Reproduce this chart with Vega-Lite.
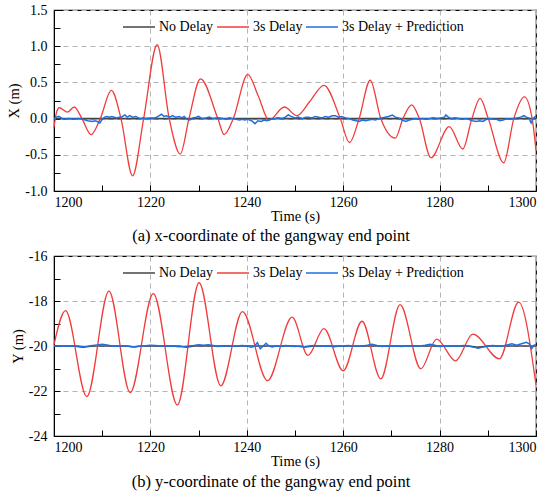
{
  "$schema": "https://vega.github.io/schema/vega-lite/v6.json",
  "padding": {"left": 6, "top": 2, "right": 5, "bottom": 2},
  "background": "white",
  "config": {
    "font": "Liberation Serif",
    "view": {"stroke": "black", "strokeWidth": 1.2},
    "axis": {
      "labelFont": "Liberation Serif",
      "titleFont": "Liberation Serif",
      "labelFontSize": 14,
      "titleFontSize": 14.5,
      "titleFontWeight": "normal",
      "labelColor": "black",
      "titleColor": "black",
      "domainColor": "black",
      "tickColor": "black",
      "tickSize": -6,
      "gridColor": "#b4b4b4",
      "gridDash": [5, 4],
      "gridWidth": 1
    },
    "legend": {
      "labelFont": "Liberation Serif",
      "labelFontSize": 14,
      "labelColor": "black"
    },
    "title": {"font": "Liberation Serif", "fontSize": 16.5, "fontWeight": "normal", "color": "black"}
  },
  "datasets": {
    "a_black": [{"t": 1200, "v": 0}, {"t": 1300, "v": 0}],
    "a_red": [
      {"t": 1200, "v": -0.12}, {"t": 1200.5, "v": 0.08}, {"t": 1201.1, "v": 0.15}, {"t": 1202.8, "v": 0.09},
      {"t": 1204.2, "v": 0.16}, {"t": 1205.8, "v": 0.0}, {"t": 1207.7, "v": -0.22}, {"t": 1209.6, "v": 0.0},
      {"t": 1211.9, "v": 0.39}, {"t": 1213.9, "v": 0.0}, {"t": 1216.3, "v": -0.79}, {"t": 1218.6, "v": 0.0},
      {"t": 1221.4, "v": 1.02}, {"t": 1223.9, "v": 0.0}, {"t": 1226.2, "v": -0.49}, {"t": 1228.0, "v": 0.0},
      {"t": 1230.4, "v": 0.55}, {"t": 1234.0, "v": 0.0}, {"t": 1235.3, "v": -0.22}, {"t": 1237.2, "v": 0.0},
      {"t": 1240.2, "v": 0.61}, {"t": 1242.4, "v": 0.31}, {"t": 1244.6, "v": -0.02}, {"t": 1247.8, "v": 0.16},
      {"t": 1250.4, "v": 0.04}, {"t": 1253.1, "v": 0.24}, {"t": 1256.0, "v": 0.46}, {"t": 1259.4, "v": 0.0},
      {"t": 1261.3, "v": -0.33}, {"t": 1263.3, "v": 0.0}, {"t": 1265.6, "v": 0.53}, {"t": 1267.8, "v": 0.0},
      {"t": 1270.8, "v": -0.27}, {"t": 1272.4, "v": 0.0}, {"t": 1274.2, "v": 0.19}, {"t": 1275.8, "v": 0.0},
      {"t": 1278.2, "v": -0.54}, {"t": 1282.0, "v": -0.11}, {"t": 1284.8, "v": -0.42}, {"t": 1286.7, "v": 0.0},
      {"t": 1288.4, "v": 0.28}, {"t": 1290.1, "v": 0.0}, {"t": 1293.3, "v": -0.61}, {"t": 1295.4, "v": 0.0},
      {"t": 1297.6, "v": 0.3}, {"t": 1299.2, "v": 0.0}, {"t": 1300, "v": -0.44}
    ],
    "a_blue": [
      {"t": 1200, "v": 0.0}, {"t": 1200.5, "v": 0.02}, {"t": 1201, "v": 0.03}, {"t": 1201.5, "v": 0.01},
      {"t": 1202, "v": -0.01}, {"t": 1203, "v": 0.0}, {"t": 1204, "v": -0.01}, {"t": 1205, "v": 0.0},
      {"t": 1206, "v": -0.01}, {"t": 1207, "v": -0.03}, {"t": 1208, "v": -0.04}, {"t": 1208.5, "v": -0.03},
      {"t": 1209, "v": -0.04}, {"t": 1209.5, "v": -0.06}, {"t": 1210, "v": -0.01}, {"t": 1210.5, "v": 0.02},
      {"t": 1211, "v": 0.03}, {"t": 1211.5, "v": 0.02}, {"t": 1212, "v": 0.03}, {"t": 1213, "v": 0.01},
      {"t": 1213.5, "v": 0.02}, {"t": 1214, "v": 0.02}, {"t": 1214.7, "v": 0.05}, {"t": 1215.2, "v": 0.02},
      {"t": 1215.7, "v": 0.04}, {"t": 1216.3, "v": 0.02}, {"t": 1217, "v": 0.03}, {"t": 1217.5, "v": 0.01},
      {"t": 1218, "v": 0.0}, {"t": 1218.5, "v": 0.01}, {"t": 1219, "v": 0.0}, {"t": 1220, "v": 0.01},
      {"t": 1221, "v": 0.01}, {"t": 1221.6, "v": 0.03}, {"t": 1222.3, "v": 0.06}, {"t": 1222.8, "v": 0.03},
      {"t": 1223.3, "v": 0.04}, {"t": 1224, "v": 0.02}, {"t": 1224.6, "v": 0.04}, {"t": 1225.2, "v": 0.02},
      {"t": 1226, "v": 0.03}, {"t": 1226.5, "v": 0.01}, {"t": 1227, "v": 0.03}, {"t": 1227.6, "v": -0.01},
      {"t": 1228.2, "v": -0.02}, {"t": 1228.8, "v": 0.01}, {"t": 1229.5, "v": 0.02}, {"t": 1230, "v": 0.03},
      {"t": 1230.7, "v": 0.0}, {"t": 1231.5, "v": 0.01}, {"t": 1232.2, "v": 0.02}, {"t": 1233, "v": 0.0},
      {"t": 1234, "v": 0.01}, {"t": 1235, "v": 0.0}, {"t": 1235.6, "v": -0.01}, {"t": 1236.3, "v": 0.01},
      {"t": 1237, "v": 0.0}, {"t": 1237.8, "v": -0.01}, {"t": 1238.5, "v": -0.02}, {"t": 1239, "v": -0.01},
      {"t": 1239.6, "v": -0.02}, {"t": 1240.2, "v": -0.01}, {"t": 1241, "v": -0.03}, {"t": 1241.7, "v": -0.07},
      {"t": 1242.3, "v": -0.03}, {"t": 1243, "v": -0.04}, {"t": 1243.6, "v": -0.02}, {"t": 1244.2, "v": -0.03},
      {"t": 1245, "v": -0.01}, {"t": 1245.8, "v": 0.0}, {"t": 1246.5, "v": 0.01}, {"t": 1247.3, "v": 0.0},
      {"t": 1248, "v": 0.02}, {"t": 1248.6, "v": 0.05}, {"t": 1249.2, "v": 0.03}, {"t": 1250, "v": 0.01},
      {"t": 1250.7, "v": 0.02}, {"t": 1251.5, "v": 0.0}, {"t": 1252.2, "v": 0.02}, {"t": 1252.8, "v": 0.02},
      {"t": 1253.5, "v": 0.01}, {"t": 1254.2, "v": 0.03}, {"t": 1254.9, "v": 0.02}, {"t": 1255.6, "v": 0.01},
      {"t": 1256.3, "v": 0.03}, {"t": 1257, "v": 0.02}, {"t": 1257.7, "v": 0.04}, {"t": 1258.4, "v": 0.04},
      {"t": 1259, "v": 0.02}, {"t": 1259.7, "v": 0.03}, {"t": 1260.5, "v": 0.01}, {"t": 1261.2, "v": 0.0},
      {"t": 1262, "v": -0.02}, {"t": 1262.7, "v": -0.03}, {"t": 1263.3, "v": -0.04}, {"t": 1264, "v": -0.02},
      {"t": 1264.7, "v": -0.03}, {"t": 1265.3, "v": -0.02}, {"t": 1266, "v": -0.01}, {"t": 1266.7, "v": -0.02},
      {"t": 1267.4, "v": 0.0}, {"t": 1268, "v": 0.01}, {"t": 1268.7, "v": 0.02}, {"t": 1269.4, "v": 0.03},
      {"t": 1270.2, "v": 0.05}, {"t": 1270.8, "v": 0.02}, {"t": 1271.5, "v": 0.01}, {"t": 1272.2, "v": -0.02},
      {"t": 1273, "v": -0.04}, {"t": 1273.7, "v": -0.02}, {"t": 1274.4, "v": -0.01}, {"t": 1275, "v": 0.0},
      {"t": 1275.8, "v": -0.01}, {"t": 1276.5, "v": 0.0}, {"t": 1277.2, "v": -0.01}, {"t": 1278, "v": 0.0},
      {"t": 1278.7, "v": 0.01}, {"t": 1279.5, "v": 0.0}, {"t": 1280.2, "v": 0.01}, {"t": 1281, "v": 0.02},
      {"t": 1281.3, "v": 0.05}, {"t": 1281.8, "v": 0.02}, {"t": 1282.5, "v": 0.0}, {"t": 1283.2, "v": 0.01},
      {"t": 1284, "v": 0.0}, {"t": 1284.7, "v": -0.01}, {"t": 1285.4, "v": 0.0}, {"t": 1286, "v": -0.01},
      {"t": 1286.8, "v": -0.03}, {"t": 1287.6, "v": -0.04}, {"t": 1288.3, "v": -0.03}, {"t": 1289, "v": -0.04},
      {"t": 1289.7, "v": -0.01}, {"t": 1290.4, "v": 0.0}, {"t": 1291.1, "v": -0.01}, {"t": 1291.8, "v": -0.01},
      {"t": 1292.5, "v": -0.03}, {"t": 1293.2, "v": -0.02}, {"t": 1294, "v": 0.0}, {"t": 1294.7, "v": -0.01},
      {"t": 1295.4, "v": 0.0}, {"t": 1296.1, "v": 0.01}, {"t": 1296.8, "v": 0.02}, {"t": 1297.5, "v": 0.04},
      {"t": 1298.0, "v": 0.02}, {"t": 1298.5, "v": 0.01}, {"t": 1299.0, "v": -0.06}, {"t": 1299.4, "v": 0.0},
      {"t": 1300, "v": 0.04}
    ],
    "b_black": [
      {"t": 1200, "v": -20}, {"t": 1204, "v": -20}, {"t": 1206, "v": -20.05}, {"t": 1208, "v": -20},
      {"t": 1215, "v": -20}, {"t": 1216.5, "v": -20.04}, {"t": 1218, "v": -20}, {"t": 1226, "v": -20},
      {"t": 1227.5, "v": -20.05}, {"t": 1229, "v": -20}, {"t": 1250, "v": -20}, {"t": 1252, "v": -20.04},
      {"t": 1254, "v": -20}, {"t": 1286, "v": -20}, {"t": 1288, "v": -20.06}, {"t": 1290, "v": -20},
      {"t": 1300, "v": -20}
    ],
    "b_red": [
      {"t": 1200, "v": -19.94}, {"t": 1202.4, "v": -18.43}, {"t": 1206.8, "v": -22.25}, {"t": 1211.4, "v": -17.56},
      {"t": 1215.8, "v": -22.07}, {"t": 1220.6, "v": -17.67}, {"t": 1225.6, "v": -22.62}, {"t": 1230.1, "v": -17.19},
      {"t": 1234.6, "v": -21.77}, {"t": 1239.1, "v": -18.47}, {"t": 1244.3, "v": -21.54}, {"t": 1249.4, "v": -18.72},
      {"t": 1252.7, "v": -20.42}, {"t": 1256.0, "v": -19.23}, {"t": 1260.0, "v": -21.1}, {"t": 1263.9, "v": -18.9},
      {"t": 1267.8, "v": -21.46}, {"t": 1271.8, "v": -18.16}, {"t": 1276.1, "v": -21.01}, {"t": 1279.4, "v": -19.69},
      {"t": 1283.3, "v": -20.66}, {"t": 1286.9, "v": -19.47}, {"t": 1292.4, "v": -20.57}, {"t": 1296.4, "v": -18.05},
      {"t": 1300, "v": -21.73}
    ],
    "b_blue": [
      {"t": 1200, "v": -20.0}, {"t": 1201, "v": -19.99}, {"t": 1202, "v": -20.0}, {"t": 1203, "v": -20.01},
      {"t": 1204, "v": -20.0}, {"t": 1205, "v": -20.0}, {"t": 1206, "v": -20.02}, {"t": 1207, "v": -20.01},
      {"t": 1208, "v": -19.98}, {"t": 1209, "v": -19.95}, {"t": 1210, "v": -19.92}, {"t": 1211, "v": -19.96},
      {"t": 1212, "v": -20.0}, {"t": 1213, "v": -20.01}, {"t": 1214, "v": -20.0}, {"t": 1215, "v": -20.0},
      {"t": 1216, "v": -20.02}, {"t": 1217, "v": -20.03}, {"t": 1218, "v": -20.0}, {"t": 1219, "v": -19.99},
      {"t": 1220, "v": -19.97}, {"t": 1221, "v": -19.98}, {"t": 1222, "v": -20.0}, {"t": 1223, "v": -20.0},
      {"t": 1224, "v": -20.0}, {"t": 1225, "v": -20.01}, {"t": 1226, "v": -20.03}, {"t": 1227, "v": -20.02},
      {"t": 1228, "v": -20.0}, {"t": 1229, "v": -19.98}, {"t": 1230, "v": -19.95}, {"t": 1231, "v": -19.97},
      {"t": 1232, "v": -19.94}, {"t": 1233, "v": -19.98}, {"t": 1234, "v": -20.02}, {"t": 1235, "v": -20.0},
      {"t": 1236, "v": -19.99}, {"t": 1237, "v": -20.01}, {"t": 1238, "v": -20.0}, {"t": 1239, "v": -19.98},
      {"t": 1240, "v": -20.0}, {"t": 1241, "v": -20.05}, {"t": 1241.6, "v": -20.0}, {"t": 1242.2, "v": -19.85},
      {"t": 1242.8, "v": -20.12}, {"t": 1243.4, "v": -20.0}, {"t": 1244.0, "v": -19.88}, {"t": 1244.6, "v": -20.0},
      {"t": 1245.3, "v": -20.04}, {"t": 1246, "v": -20.0}, {"t": 1247, "v": -20.02}, {"t": 1248, "v": -19.98},
      {"t": 1249, "v": -20.0}, {"t": 1250, "v": -20.02}, {"t": 1251, "v": -20.0}, {"t": 1252, "v": -20.03},
      {"t": 1253, "v": -20.0}, {"t": 1254, "v": -19.98}, {"t": 1255, "v": -20.0}, {"t": 1256, "v": -20.01},
      {"t": 1257, "v": -20.0}, {"t": 1258, "v": -20.03}, {"t": 1259, "v": -20.01}, {"t": 1260, "v": -20.0},
      {"t": 1261, "v": -19.98}, {"t": 1262, "v": -20.0}, {"t": 1263, "v": -20.01}, {"t": 1264, "v": -20.0},
      {"t": 1265, "v": -19.97}, {"t": 1266, "v": -19.92}, {"t": 1267, "v": -19.98}, {"t": 1268, "v": -20.02},
      {"t": 1269, "v": -20.0}, {"t": 1270, "v": -20.01}, {"t": 1271, "v": -20.0}, {"t": 1272, "v": -20.02},
      {"t": 1273, "v": -20.0}, {"t": 1274, "v": -20.0}, {"t": 1275, "v": -19.99}, {"t": 1276, "v": -20.0},
      {"t": 1277, "v": -19.97}, {"t": 1278, "v": -19.92}, {"t": 1279, "v": -19.97}, {"t": 1280, "v": -20.02},
      {"t": 1281, "v": -20.0}, {"t": 1282, "v": -20.01}, {"t": 1283, "v": -20.0}, {"t": 1284, "v": -20.0},
      {"t": 1285, "v": -19.98}, {"t": 1286, "v": -20.0}, {"t": 1287, "v": -20.05}, {"t": 1288, "v": -20.1},
      {"t": 1289, "v": -20.05}, {"t": 1290, "v": -20.0}, {"t": 1291, "v": -19.98}, {"t": 1292, "v": -20.0},
      {"t": 1293, "v": -20.01}, {"t": 1294, "v": -19.95}, {"t": 1295, "v": -19.9}, {"t": 1296, "v": -19.96},
      {"t": 1297, "v": -19.9}, {"t": 1298, "v": -19.84}, {"t": 1298.6, "v": -19.9}, {"t": 1299.1, "v": -20.12},
      {"t": 1299.6, "v": -19.96}, {"t": 1300, "v": -19.94}
    ]
  },
  "vconcat": [
    {
      "width": 482,
      "height": 181,
      "title": {"text": "(a) x-coordinate of the gangway end point", "orient": "bottom", "offset": 5, "dx": -24},
      "encoding": {
        "x": {
          "field": "t", "type": "quantitative",
          "scale": {"domain": [1200, 1300], "nice": false},
          "axis": {
            "title": "Time (s)",
            "values": [1200, 1210, 1220, 1230, 1240, 1250, 1260, 1270, 1280, 1290, 1300],
            "labelExpr": "datum.value % 20 === 0 ? format(datum.value, 'd') : ''",
            "labelPadding": 10,
            "titlePadding": 0,
            "gridOpacity": {"condition": {"test": "datum.value % 20 === 0", "value": 1}, "value": 0}
          }
        },
        "y": {
          "field": "v", "type": "quantitative",
          "scale": {"domain": [-1, 1.5], "nice": false, "zero": false},
          "axis": {
            "title": "X (m)",
            "values": [-1, -0.75, -0.5, -0.25, 0, 0.25, 0.5, 0.75, 1, 1.25, 1.5],
            "labelExpr": "abs(datum.value * 2 - round(datum.value * 2)) < 0.001 ? replace(format(datum.value, '.1f'), '\u2212', '-') : ''",
            "labelPadding": 13,
            "titlePadding": 3,
            "gridOpacity": {"condition": {"test": "abs(datum.value * 2 - round(datum.value * 2)) < 0.001", "value": 1}, "value": 0}
          }
        },
        "color": {
          "datum": "No Delay", "type": "nominal",
          "scale": {"domain": ["No Delay", "3s Delay", "3s Delay + Prediction"], "range": ["#444444", "#f23c3c", "#1f6fe0"]},
          "legend": {"title": null, "orient": "none", "direction": "horizontal", "legendX": 68, "legendY": 0, "symbolType": "stroke", "symbolSize": 1024, "symbolStrokeWidth": 1.5, "labelOffset": 3, "columnPadding": 0, "padding": 0}
        }
      },
      "layer": [
        {"data": {"name": "a_black"}, "mark": {"type": "line", "strokeWidth": 1.6}},
        {"data": {"name": "a_red"}, "mark": {"type": "line", "strokeWidth": 1.3, "interpolate": "monotone"}, "encoding": {"color": {"datum": "3s Delay", "type": "nominal"}}},
        {"data": {"name": "a_blue"}, "mark": {"type": "line", "strokeWidth": 1.5}, "encoding": {"color": {"datum": "3s Delay + Prediction", "type": "nominal"}}}
      ]
    },
    {
      "width": 482,
      "height": 180,
      "title": {"text": "(b) y-coordinate of the gangway end point", "orient": "bottom", "offset": 6, "dx": -24},
      "encoding": {
        "x": {
          "field": "t", "type": "quantitative",
          "scale": {"domain": [1200, 1300], "nice": false},
          "axis": {
            "title": "Time (s)",
            "values": [1200, 1210, 1220, 1230, 1240, 1250, 1260, 1270, 1280, 1290, 1300],
            "labelExpr": "datum.value % 20 === 0 ? format(datum.value, 'd') : ''",
            "labelPadding": 10,
            "titlePadding": 0,
            "gridOpacity": {"condition": {"test": "datum.value % 20 === 0", "value": 1}, "value": 0}
          }
        },
        "y": {
          "field": "v", "type": "quantitative",
          "scale": {"domain": [-24, -16], "nice": false, "zero": false},
          "axis": {
            "title": "Y (m)",
            "values": [-24, -23, -22, -21, -20, -19, -18, -17, -16],
            "labelExpr": "datum.value % 2 === 0 ? replace(format(datum.value, 'd'), '\u2212', '-') : ''",
            "labelPadding": 13,
            "titlePadding": 3,
            "gridOpacity": {"condition": {"test": "datum.value % 2 === 0", "value": 1}, "value": 0}
          }
        },
        "color": {
          "datum": "No Delay", "type": "nominal",
          "scale": {"domain": ["No Delay", "3s Delay", "3s Delay + Prediction"], "range": ["#444444", "#f23c3c", "#1f6fe0"]},
          "legend": {"title": null, "orient": "none", "direction": "horizontal", "legendX": 68, "legendY": 0, "symbolType": "stroke", "symbolSize": 1024, "symbolStrokeWidth": 1.5, "labelOffset": 3, "columnPadding": 0, "padding": 0}
        }
      },
      "layer": [
        {"data": {"name": "b_black"}, "mark": {"type": "line", "strokeWidth": 1.6}},
        {"data": {"name": "b_red"}, "mark": {"type": "line", "strokeWidth": 1.3, "interpolate": "monotone"}, "encoding": {"color": {"datum": "3s Delay", "type": "nominal"}}},
        {"data": {"name": "b_blue"}, "mark": {"type": "line", "strokeWidth": 1.5}, "encoding": {"color": {"datum": "3s Delay + Prediction", "type": "nominal"}}}
      ]
    }
  ],
  "spacing": 3,
  "resolve": {"scale": {"color": "independent"}, "legend": {"color": "independent"}}
}
